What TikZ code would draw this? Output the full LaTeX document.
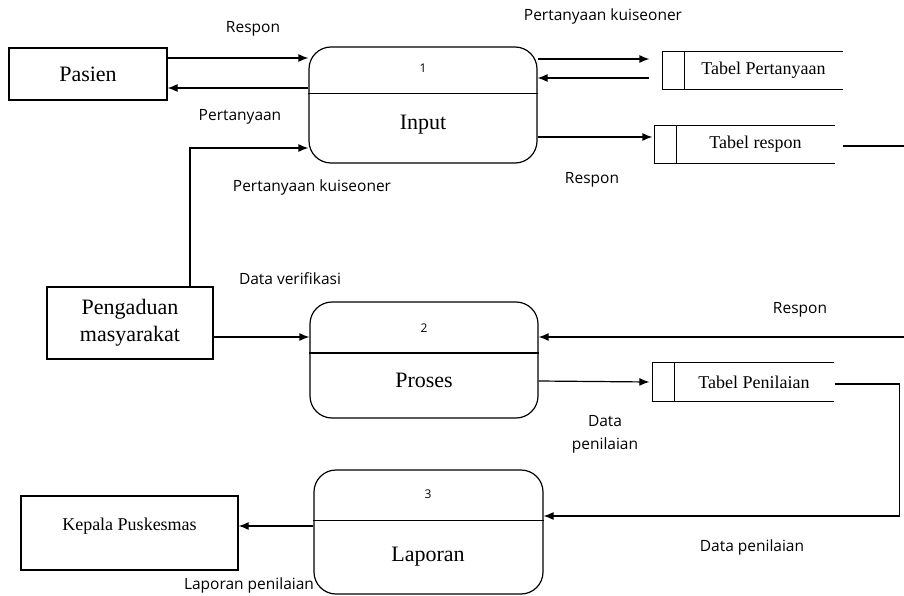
\documentclass[tikz,border=0pt]{standalone}
\usepackage{fontspec}
\setmainfont{Liberation Serif}
\newfontfamily\lblfont{Open Sans}
\usetikzlibrary{arrows.meta,calc,positioning}

\begin{document}
\begin{tikzpicture}[x=1pt,y=-1pt,line width=1.2pt,
		entity/.style={draw,rectangle,inner sep=0pt,font=\fontsize{22}{27}\selectfont,align=center},
		title/.style={inner sep=0pt,font=\fontsize{22}{27}\selectfont},
		proc/.style={draw,rectangle,rounded corners=22pt,inner sep=0pt,minimum width=228pt,minimum height=116pt},
		store/.style={inner sep=0pt,minimum width=157pt,minimum height=37pt,font=\fontsize{18}{22}\selectfont},
		flow/.style={-{Latex[length=10pt,width=8pt]}},
		lbl/.style={inner sep=0pt,align=center,font=\lblfont\fontsize{15.5}{23}\selectfont},
		num/.style={inner sep=0pt,font=\lblfont\fontsize{12}{14}\selectfont}]
		\useasboundingbox (0,0) rectangle (904,596);
		% external entities
		\node[entity,minimum width=158pt,minimum height=52pt] (pas) at (88,74) {Pasien};
		\node[entity,minimum width=166pt,minimum height=72pt] (peng) at (130,323) {Pengaduan\\masyarakat};
		\node[entity,minimum width=217pt,minimum height=74pt,font=\fontsize{18}{22}\selectfont,text depth=18pt] (kp) at (129.5,533) {Kepala Puskesmas};
		% processes
		\node[proc] (in) at (423,105) {};
		\node[proc] (pr) at (424,360) {};
		\node[proc,minimum width=229pt,minimum height=124pt] (lp) at (428.5,532) {};
		\draw ($(in.north west)!0.4!(in.south west)$) -- ($(in.north east)!0.4!(in.south east)$);
		\draw ($(pr.north west)!0.44!(pr.south west)$) -- ($(pr.north east)!0.44!(pr.south east)$);
		\draw ($(lp.north west)!0.41!(lp.south west)$) -- ($(lp.north east)!0.41!(lp.south east)$);
		\node[num] (n1) at (423,68) {1};
		\node[title] (t1) at (423,125) {Input};
		\node[num] (n2) at (424,328) {2};
		\node[title] (t2) at (424,380) {Proses};
		\node[num] (n3) at (428,494) {3};
		\node[title] (t3) at (428,557) {Laporan};
		% data stores
		\node[store] (tp) at (763.5,70.5) {Tabel Pertanyaan};
		\node[store] (tr) at (755.5,144.5) {Tabel respon};
		\node[store,minimum width=158pt,minimum height=38pt] (tn) at (754,382) {Tabel Penilaian};
		\foreach \s in {tp,tr,tn}
			\draw ($(\s.north west)+(-22,0)$) rectangle (\s.south west)
				(\s.north west) -- (\s.north east) (\s.south west) -- (\s.south east);
		% flows
		\draw[flow] ([yshift=16pt]pas.east) -- ([yshift=16pt]pas.east -| in.west);
		\draw[flow] ([yshift=-14pt]pas.east -| in.west) -- ([yshift=-14pt]pas.east);
		\draw[flow] ([xshift=60pt]peng.north) |- ([yshift=-43pt]in.west);
		\draw[flow] ([yshift=11.5pt]tp.west -| in.east) -- ([xshift=-35pt,yshift=11.5pt]tp.west);
		\draw[flow] ([xshift=-35pt,yshift=-7.5pt]tp.west) -- ([yshift=-7.5pt]tp.west -| in.east);
		\draw[flow] ([yshift=7.5pt]tr.west -| in.east) -- ([xshift=-24pt,yshift=7.5pt]tr.west);
		\coordinate (edge1) at (904,146);
		\draw ([xshift=8pt,yshift=-1.5pt]tr.east) -- (edge1);
		\coordinate (edge2) at (904,337);
		\draw[flow] (edge2) -- (edge2 -| pr.east);
		\draw[flow] ([yshift=-14pt]peng.east) -- ([yshift=-14pt]peng.east -| pr.west);
		\draw[flow] ([yshift=-21pt]pr.east) -- ([xshift=-25pt]tn.west);
		\draw[flow] ([xshift=1pt,yshift=-2pt]tn.east) -- ++(65,0) |- ([yshift=16pt]lp.east);
		\draw[flow] ([yshift=6pt]lp.west) -- ([yshift=6pt]lp.west -| kp.east);
		% flow labels
		\node[lbl] (l1) at (253,29) {Respon};
		\node[lbl] (l2) at (240,117) {Pertanyaan};
		\node[lbl] (l3) at (312,187) {Pertanyaan kuiseoner};
		\node[lbl] (l4) at (603,16) {Pertanyaan kuiseoner};
		\node[lbl] (l5) at (592,180) {Respon};
		\node[lbl] (l6) at (290,279) {Data verifikasi};
		\node[lbl] (l7) at (800,310) {Respon};
		\node[lbl] (l8) at (605,434) {Data\\penilaian};
		\node[lbl] (l9) at (752,547) {Data penilaian};
		\node[lbl] (l10) at (249,585) {Laporan penilaian};
	\end{tikzpicture}
\end{document}
